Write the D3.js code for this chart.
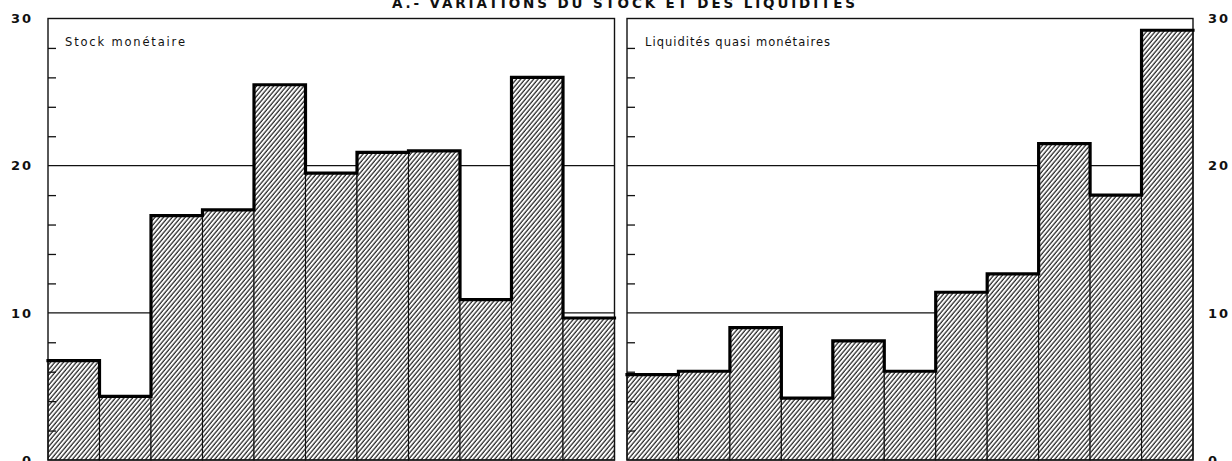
<!DOCTYPE html>
<html>
<head>
<meta charset="utf-8">
<script src="https://cdn.jsdelivr.net/npm/d3@7"></script>
<style>
  html, body { margin: 0; padding: 0; background: #fff; }
  svg { display: block; }
</style>
</head>
<body>
<svg id="chart" width="1232" height="461"></svg>
<script>
// ---- data ----
const periods = ["1", "2", "3", "4", "5", "6", "7", "8", "9", "10", "11"];
const stockValues = [6.75, 4.33, 16.6, 17.0, 25.5, 19.5, 20.9, 21.0, 10.9, 26.0, 9.65];
const liquidValues = [5.8, 6.03, 9.0, 4.2, 8.1, 6.03, 11.4, 12.65, 21.5, 18.0, 29.2];
const majorTicks = [0, 10, 20, 30];
const minorTicks = [2, 4, 6, 8, 12, 14, 16, 18, 22, 24, 26, 28];
const gridValues = [10, 20];
const titleText = "A.- VARIATIONS DU STOCK ET DES LIQUIDITES";
const leftLabel = "Stock monétaire";
const rightLabel = "Liquidités quasi monétaires";

// ---- setup ----
const svg = d3.select("#chart");
svg.append("rect").attr("width", 1232).attr("height", 461).attr("fill", "#fff");

const defs = svg.append("defs");
const pat = defs.append("pattern")
  .attr("id", "hatch")
  .attr("patternUnits", "userSpaceOnUse")
  .attr("width", 3.3).attr("height", 3.3)
  .attr("patternTransform", "rotate(40)");
pat.append("rect").attr("width", 3.3).attr("height", 3.3).attr("fill", "#fff");
pat.append("line")
  .attr("x1", 1).attr("y1", 0).attr("x2", 1).attr("y2", 3.3)
  .attr("stroke", "#111").attr("stroke-width", 1.15);

const y = d3.scaleLinear().domain([0, 30]).range([460, 18.5]);

const panels = [
  { values: stockValues, range: [48, 614.5], label: leftLabel, labelX: 65, labelLen: 120 },
  { values: liquidValues, range: [627, 1193], label: rightLabel, labelX: 645, labelLen: 185 }
];

panels.forEach((p, pi) => {
  const x = d3.scaleBand().domain(periods).range(p.range).padding(0);
  const g = svg.append("g");
  const [x0, x1] = p.range;

  // gridlines
  g.selectAll("line.grid").data(gridValues).join("line")
    .attr("class", "grid")
    .attr("x1", x0).attr("x2", x1)
    .attr("y1", d => y(d)).attr("y2", d => y(d))
    .attr("stroke", "#111").attr("stroke-width", 1.3);

  // bars
  g.selectAll("rect.bar").data(periods).join("rect")
    .attr("class", "bar")
    .attr("x", d => x(d))
    .attr("width", x.bandwidth())
    .attr("y", (d, i) => y(p.values[i]))
    .attr("height", (d, i) => y(0) - y(p.values[i]))
    .attr("fill", "url(#hatch)")
    .attr("stroke", "#111").attr("stroke-width", 1.1);

  // minor ticks (inward)
  const tickAxis = d3.axisRight(y).tickValues(minorTicks).tickSize(8).tickFormat("");
  const ta = g.append("g").attr("transform", `translate(${x0},0)`).call(tickAxis);
  ta.select(".domain").remove();
  ta.selectAll("line").attr("stroke", "#111").attr("stroke-width", 1.3);

  // panel border
  g.append("rect")
    .attr("x", x0).attr("y", y(30))
    .attr("width", x1 - x0).attr("height", y(0) - y(30))
    .attr("fill", "none").attr("stroke", "#111").attr("stroke-width", 1.4);

  // thick step outline along bar tops
  const pts = [];
  periods.forEach((d, i) => {
    pts.push([x(d), y(p.values[i])]);
    pts.push([x(d) + x.bandwidth(), y(p.values[i])]);
  });
  g.append("path")
    .attr("d", d3.line()(pts))
    .attr("fill", "none").attr("stroke", "#000")
    .attr("stroke-width", 3.2).attr("stroke-linejoin", "miter").attr("stroke-linecap", "square");

  // panel label
  g.append("text")
    .attr("x", p.labelX).attr("y", 46)
    .attr("textLength", p.labelLen).attr("lengthAdjust", "spacing")
    .attr("font-family", "'DejaVu Sans', sans-serif")
    .attr("font-size", 11.5)
    .attr("fill", "#111")
    .text(p.label);

  // value labels
  const labAxis = (pi === 0 ? d3.axisLeft(y) : d3.axisRight(y))
    .tickValues(majorTicks).tickSize(0).tickPadding(15).tickFormat(d3.format("d"));
  const la = svg.append("g")
    .attr("transform", `translate(${pi === 0 ? x0 : x1},0)`)
    .call(labAxis);
  la.select(".domain").remove();
  la.selectAll("text")
    .attr("font-family", "'DejaVu Sans', sans-serif")
    .attr("font-size", 13)
    .attr("letter-spacing", 2)
    .attr("font-weight", d => d === 30 ? "bold" : "600")
    .attr("fill", "#111");
});

// title
svg.append("text")
  .attr("x", 392).attr("y", 8)
  .attr("textLength", 463).attr("lengthAdjust", "spacing")
  .attr("font-family", "'DejaVu Sans', sans-serif")
  .attr("font-weight", "bold")
  .attr("font-size", 13.5)
  .attr("fill", "#111")
  .text(titleText);
</script>
</body>
</html>
